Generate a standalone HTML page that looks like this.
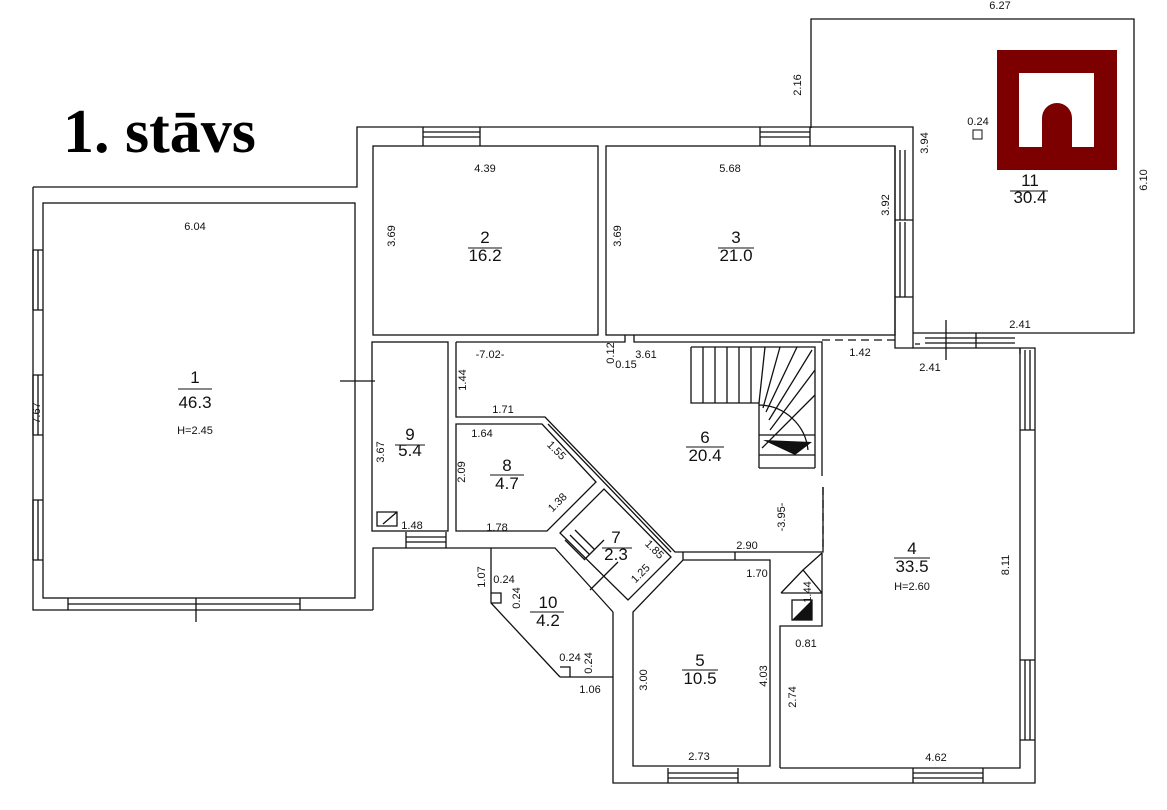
<!DOCTYPE html>
<html><head><meta charset="utf-8"><style>
body{margin:0;background:#fff}
svg{display:block}
.t{font-family:"Liberation Sans",sans-serif;font-size:11px;fill:#111}
.n{font-family:"Liberation Sans",sans-serif;font-size:17px;fill:#111}
</style></head><body>
<svg width="1167" height="810" viewBox="0 0 1167 810" xmlns="http://www.w3.org/2000/svg">
<rect width="1167" height="810" fill="#fff"/>
<text x="63" y="152" font-family="Liberation Serif,serif" font-weight="bold" font-size="62" fill="#000">1. stāvs</text>
<g fill="none" stroke="#111" stroke-width="1.3">
<path d="M33,187 H357 V127 H913 V348 H1035 V783 H613 V612 M373,610 H33 V187"/>
<path d="M373,610 V548 H555 L613,612"/>
<path d="M560,677 H613"/>
<rect x="43" y="203" width="312" height="395"/>
<rect x="373" y="146" width="225" height="189"/>
<rect x="606" y="146" width="289" height="189"/>
<path d="M811,128 V19 H1134 V333 H913"/>
<path d="M895,146 V348 H913"/>
<rect x="372" y="342" width="76" height="189"/>
<path d="M377,512 h20 v14 h-20z M383,524 l14,-12 M391,512 h6 v6"/>
<path d="M456,342 H625 V335 M634,335 V342 H822 V476 M456,342 V417 H545 L675,552 H823 V487"/>
<path d="M823,487 V550" stroke-dasharray="8,5"/>
<path d="M822,340 H895" stroke-dasharray="8,5"/>
<path d="M456,424 H542 L596,482 L547,531 H456 Z"/>
<path d="M548,424 L671,552"/>
<path d="M560,533 L604,489 L671,557 L628,600 Z"/>
<path d="M565,540 l20,20 M570,535 l20,20 M575,530 l20,20 M584,560 l20,-20 M590,590 l28,-28"/>
<path d="M491,548 V603 L560,677 M491,593 h10 v10 h-10 M560,667 h10 v10"/>
<path d="M633,766 V612 L683,560 H770 V766 Z M683,552 V560 M735,552 V560"/>
<path d="M780,768 H1020 V348 M780,768 V626 H822 V553"/>
<path d="M781,593 H822 M781,593 L803,570 L822,593 M803,570 L822,553"/>
<rect x="792" y="600" width="20" height="20"/>
<path d="M691,347 H815 V468 M691,347 V403 H759 V468 M691,403 H759"/>
<path d="M703,347 V403 M715,347 V403 M727,347 V403 M739,347 V403 M751,347 V403 M765,347 L759,403 M780,347 L763,408 M797,347 L766,412 M812,350 L769,420 M815,370 L770,430 M815,395 L762,448 M759,435 H815 M759,455 H815 M759,468 H815"/>
<path d="M759,405 A50,50 0 0 1 808,450"/>
<path d="M33,250 v60 M38,250 v60 M33,375 v60 M38,375 v60 M33,500 v60 M38,500 v60 M33,250 h10 M33,310 h10 M33,375 h10 M33,435 h10 M33,500 h10 M33,560 h10"/>
<path d="M68,598 V610 M300,598 V610 M68,604 H300"/>
<path d="M423,127 v19 M480,127 v19 M423,132 h57 M423,137 h57 M760,127 v19 M810,127 v19 M760,132 h50 M760,137 h50"/>
<path d="M900,150 v70 M905,150 v70 M900,222 v75 M905,222 v75 M895,220 h18 M895,297 h18"/>
<path d="M925,338 h90 M925,343 h90 M976,333 v15 M915,344 h5 M1020,348 v6"/>
<path d="M1025,350 v80 M1030,350 v80 M1025,660 v80 M1030,660 v80 M1020,430 h15 M1020,660 h15 M1020,740 h15"/>
<path d="M668,768 v15 M738,768 v15 M668,773 h70 M668,778 h70 M913,768 v15 M983,768 v15 M913,773 h70 M913,778 h70"/>
<path d="M406,532 v16 M446,532 v16 M406,537 h40 M406,542 h40"/>
<path d="M340,381 H375 M196,598 V622 M946,320 V360"/>
</g>
<path d="M763,440 L812,442 L795,455 Z" fill="#111"/>
<path d="M812,600 V620 H792 Z" fill="#111"/>
<rect x="997" y="50" width="120" height="120" fill="#7d0000"/>
<rect x="1019" y="73" width="75" height="74" fill="#fff"/>
<path d="M1042,147 V118 A15,15 0 0 1 1072,118 V147 Z" fill="#7d0000"/>
<g class="n" text-anchor="middle">
<text x="195" y="383">1</text><text x="195" y="408">46.3</text>
<text x="485" y="243">2</text><text x="485" y="261">16.2</text>
<text x="736" y="243">3</text><text x="736" y="261">21.0</text>
<text x="1030" y="186">11</text><text x="1030" y="203">30.4</text>
<text x="410" y="440">9</text><text x="410" y="456">5.4</text>
<text x="507" y="471">8</text><text x="507" y="489">4.7</text>
<text x="705" y="443">6</text><text x="705" y="461">20.4</text>
<text x="616" y="543">7</text><text x="616" y="560">2.3</text>
<text x="548" y="608">10</text><text x="548" y="626">4.2</text>
<text x="700" y="666">5</text><text x="700" y="684">10.5</text>
<text x="912" y="554">4</text><text x="912" y="572">33.5</text>
</g>
<g stroke="#111" stroke-width="1">
<path d="M178,389 h34 M468,248 h34 M718,248 h36 M1010,191 h38 M395,445 h30 M490,475 h34 M686,447 h38 M602,548 h30 M530,612 h34 M682,670 h36 M894,558 h36"/>
</g>
<g class="t" text-anchor="middle">
<text x="195" y="434">H=2.45</text><text x="912" y="590">H=2.60</text>
<text x="1000" y="9">6.27</text><text x="978" y="125">0.24</text>
<text x="1020" y="328">2.41</text><text x="930" y="371">2.41</text><text x="860" y="356">1.42</text>
<text x="485" y="172">4.39</text><text x="730" y="172">5.68</text><text x="195" y="230">6.04</text>
<text x="412" y="529">1.48</text><text x="490" y="358">-7.02-</text>
<text x="626" y="368">0.15</text><text x="646" y="358">3.61</text>
<text x="503" y="413">1.71</text><text x="482" y="437">1.64</text><text x="497" y="531">1.78</text>
<text x="747" y="549">2.90</text><text x="757" y="577">1.70</text><text x="806" y="647">0.81</text>
<text x="504" y="583">0.24</text><text x="570" y="661">0.24</text><text x="590" y="693">1.06</text>
<text x="699" y="760">2.73</text><text x="936" y="761">4.62</text>
<text transform="translate(801,85) rotate(-90)">2.16</text>
<text transform="translate(1147,180) rotate(-90)">6.10</text>
<text transform="translate(928,143) rotate(-90)">3.94</text>
<text transform="translate(889,205) rotate(-90)">3.92</text>
<text transform="translate(395,236) rotate(-90)">3.69</text>
<text transform="translate(621,236) rotate(-90)">3.69</text>
<text transform="translate(40,413) rotate(-90)">7.67</text>
<text transform="translate(384,452) rotate(-90)">3.67</text>
<text transform="translate(614,353) rotate(-90)">0.12</text>
<text transform="translate(466,380) rotate(-90)">1.44</text>
<text transform="translate(465,472) rotate(-90)">2.09</text>
<text transform="translate(785,517) rotate(-90)">-3.95-</text>
<text transform="translate(811,592) rotate(-90)">1.44</text>
<text transform="translate(1009,565) rotate(-90)">8.11</text>
<text transform="translate(485,577) rotate(-90)">1.07</text>
<text transform="translate(520,598) rotate(-90)">0.24</text>
<text transform="translate(592,663) rotate(-90)">0.24</text>
<text transform="translate(647,680) rotate(-90)">3.00</text>
<text transform="translate(767,676) rotate(-90)">4.03</text>
<text transform="translate(796,697) rotate(-90)">2.74</text>
<text transform="translate(554,453) rotate(45)">1.55</text>
<text transform="translate(560,505) rotate(-45)">1.38</text>
<text transform="translate(652,552) rotate(45)">1.85</text>
<text transform="translate(643,576) rotate(-45)">1.25</text>
</g>
<rect x="973" y="130" width="9" height="9" fill="none" stroke="#111"/>
</svg>
</body></html>
